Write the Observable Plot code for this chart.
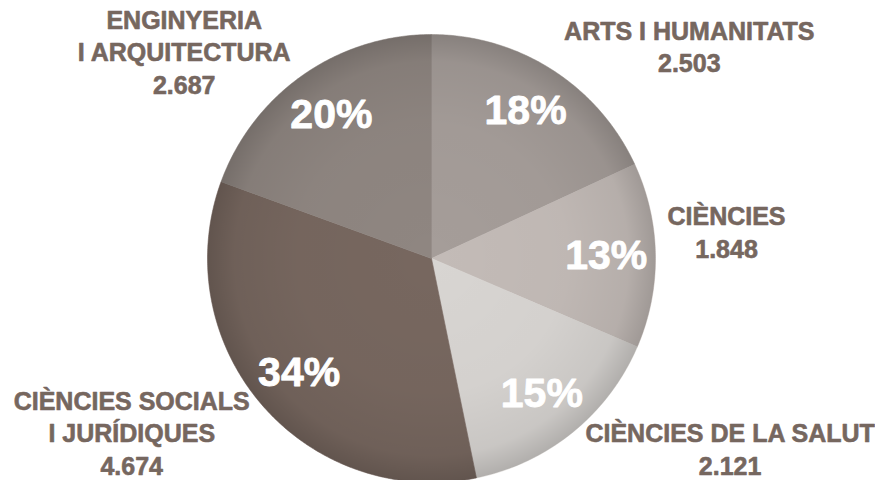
<!DOCTYPE html>
<html>
<head>
<meta charset="utf-8">
<script src="https://cdn.jsdelivr.net/npm/d3@7"></script>
<script src="https://cdn.jsdelivr.net/npm/@observablehq/plot@0.6"></script>
<style>
  body { margin: 0; background: #ffffff; }
  #chart svg { display: block; }
</style>
</head>
<body>
<div id="chart"></div>
<script>
// ---- Data ----
const categories = [
  "ARTS I HUMANITATS",
  "CIÈNCIES",
  "CIÈNCIES DE LA SALUT",
  "CIÈNCIES SOCIALS\nI JURÍDIQUES",
  "ENGINYERIA\nI ARQUITECTURA"
];
const values = [2503, 1848, 2121, 4674, 2687];
const sliceColors = ["#a59d99", "#c3bbb7", "#d8d5d2", "#77675f", "#8f8681"];

// ---- Layout ----
const W = 875, H = 480;
const CX = 431, CY = 258, R = 224;
const labelColor = "#76675f";
const fontFamily = "'Liberation Sans', Arial, Helvetica, sans-serif";
const labelSize = 25, lineH = 1.3;

const caFormat = d3.formatLocale({decimal: ",", thousands: ".", grouping: [3], currency: ["", " €"]}).format(",d");

const rows = categories.map((name, i) => ({name, value: values[i], color: sliceColors[i]}));
const total = d3.sum(values);
const arcs = d3.pie().sort(null).value(d => d.value)(rows);

// percentages rounded with largest remainder so they add up to 100
const raw = values.map(v => v / total * 100);
const pcts = raw.map(Math.floor);
let left = 100 - d3.sum(pcts);
d3.range(raw.length).sort((a, b) => (raw[b] - pcts[b]) - (raw[a] - pcts[a]))
  .forEach(i => { if (left > 0) { pcts[i]++; left--; } });

// polygon vertices for each slice (unit circle, y up, angle clockwise from top)
const polyPoints = [];
for (const a of arcs) {
  const name = a.data.name;
  polyPoints.push({name, x: 0, y: 0});
  const n = Math.max(2, Math.ceil((a.endAngle - a.startAngle) / (Math.PI / 360)));
  for (let i = 0; i <= n; i++) {
    const t = a.startAngle + (a.endAngle - a.startAngle) * i / n;
    polyPoints.push({name, x: Math.sin(t), y: Math.cos(t)});
  }
  polyPoints.push({name, x: 0, y: 0});
}

// text measuring for label placement
const ctx = document.createElement("canvas").getContext("2d");
ctx.font = `bold ${labelSize}px ${fontFamily}`;

const pctLabels = arcs.map((a, i) => {
  const m = (a.startAngle + a.endAngle) / 2;
  return {x: 0.78 * Math.sin(m), y: 0.78 * Math.cos(m), text: pcts[i] + "%"};
});

const outerLabels = arcs.map(a => {
  const m = (a.startAngle + a.endAngle) / 2;
  const text = a.data.name + "\n" + caFormat(a.data.value);
  const lines = text.split("\n");
  const w = d3.max(lines, s => ctx.measureText(s).width);
  const side = Math.sin(m) >= 0 ? 1 : -1;
  const vs = Math.cos(m) >= 0 ? 1 : -1;
  // block centre in pixels, kept inside the frame
  let cy = CY - R * Math.cos(m) - vs * (vs > 0 ? 24 : 30);
  const toLastBaseline = (lines.length - 1) * lineH * labelSize / 2 + 0.36 * labelSize;
  const toFirstTop = (lines.length - 1) * lineH * labelSize / 2 + 0.5 * labelSize;
  cy = Math.min(cy, H - 7 - toLastBaseline);
  cy = Math.max(cy, toFirstTop + 2);
  return {
    x: Math.sin(m) + side * (12 + w / 2) / R,
    y: (CY - cy) / R,
    text
  };
});

const defs = () => {
  const d = d3.create("svg:defs");
  const g = d.append("radialGradient").attr("id", "shade");
  g.append("stop").attr("offset", "0%").attr("stop-color", "#000").attr("stop-opacity", 0);
  g.append("stop").attr("offset", "60%").attr("stop-color", "#000").attr("stop-opacity", 0.02);
  g.append("stop").attr("offset", "88%").attr("stop-color", "#000").attr("stop-opacity", 0.07);
  g.append("stop").attr("offset", "100%").attr("stop-color", "#000").attr("stop-opacity", 0.18);
  return d.node();
};

const chart = Plot.plot({
  width: W,
  height: H,
  margin: 0,
  style: {background: "#ffffff", fontFamily},
  x: {domain: [-CX / R, (W - CX) / R], axis: null},
  y: {domain: [-(H - CY) / R, CY / R], axis: null},
  color: {domain: categories, range: sliceColors},
  marks: [
    defs,
    Plot.line(polyPoints, {
      x: "x", y: "y", z: "name",
      fill: "name", stroke: "name", strokeWidth: 0.6,
      strokeLinejoin: "round", curve: "linear"
    }),
    Plot.dot([{x: 0, y: 0}], {x: "x", y: "y", r: R, fill: "url(#shade)", stroke: null}),
    Plot.text(pctLabels, {
      x: "x", y: "y", text: "text",
      fill: "#ffffff", stroke: "#ffffff", strokeWidth: 0.8,
      fontSize: 41, fontWeight: "bold", textAnchor: "middle", lineAnchor: "middle"
    }),
    Plot.text(outerLabels, {
      x: "x", y: "y", text: "text",
      fill: labelColor, stroke: labelColor, strokeWidth: 0.6,
      fontSize: labelSize, fontWeight: "bold", textAnchor: "middle",
      lineAnchor: "middle", lineHeight: lineH
    })
  ]
});

document.getElementById("chart").appendChild(chart);
</script>
</body>
</html>
